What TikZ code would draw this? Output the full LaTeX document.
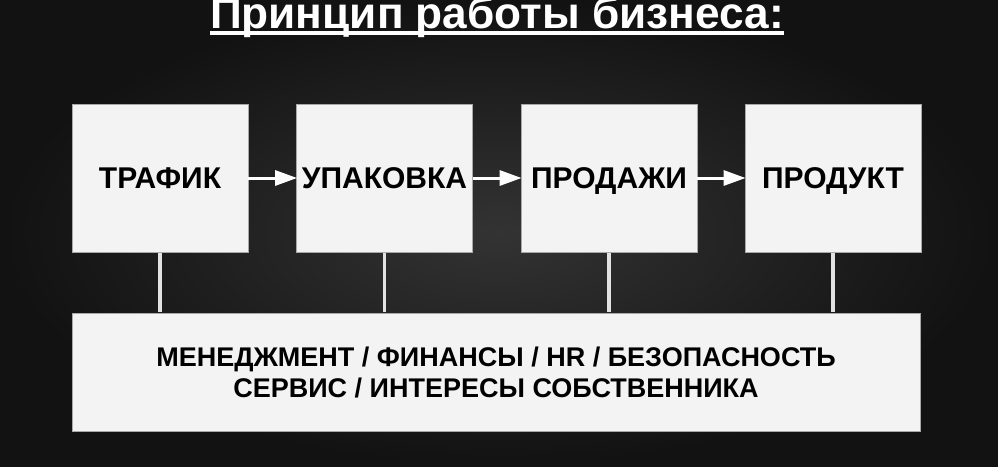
\documentclass[tikz,border=0pt]{standalone}
\usepackage{fontspec}
\setmainfont{Liberation Sans}
\usetikzlibrary{arrows.meta}
\definecolor{boxfill}{HTML}{F3F3F3}
\definecolor{boxline}{HTML}{A8A8A8}
\definecolor{linkcol}{HTML}{E2E2E2}
\begin{document}
\begin{tikzpicture}[x=1pt,y=-1pt,
  stagebox/.style={draw=boxline,line width=0.8pt,fill=boxfill,minimum width=176pt,minimum height=148pt,inner sep=0pt,text height=21.5pt,text depth=0pt,font=\fontsize{30}{34}\selectfont\bfseries,text=black},
  basebox/.style={draw=boxline,line width=0.8pt,fill=boxfill,minimum width=848pt,minimum height=118pt,inner sep=0pt,font=\fontsize{27}{31}\selectfont\bfseries,text=black,align=center},
  flowarrow/.style={draw=white,line width=3pt,-{Triangle[length=22pt,width=15pt]},shorten >=-1pt},
  link/.style={draw=linkcol,line width=3.2pt}]
\useasboundingbox (0,0) rectangle (998,466);
\shade[inner color=black!80!white,outer color=black!93!white] (0,0) rectangle (998,466);
\node[text=white,font=\fontsize{44.2}{46}\selectfont\bfseries,inner sep=0pt,anchor=base] (title) at (497,28) {Принцип работы бизнеса:};
\draw[white,line width=3.4pt] ([yshift=-5pt]title.base west) -- ([yshift=-5pt]title.base east);
\node[stagebox] (b1) at (160,178) {ТРАФИК};
\node[stagebox] (b2) at (384.5,178) {УПАКОВКА};
\node[stagebox] (b3) at (609,178) {ПРОДАЖИ};
\node[stagebox] (b4) at (833,178) {ПРОДУКТ};
\node[basebox] (base) at (496,372) {МЕНЕДЖМЕНТ / ФИНАНСЫ / HR / БЕЗОПАСНОСТЬ\\СЕРВИС / ИНТЕРЕСЫ СОБСТВЕННИКА};
\draw[flowarrow] (b1.east) -- (b2.west);
\draw[flowarrow] (b2.east) -- (b3.west);
\draw[flowarrow] (b3.east) -- (b4.west);
\foreach \b in {b1,b2,b3,b4}{
  \draw[link] ([yshift=-0.5pt]\b.south) -- ([yshift=0.5pt]\b.south |- base.north);
}
\end{tikzpicture}
\end{document}
